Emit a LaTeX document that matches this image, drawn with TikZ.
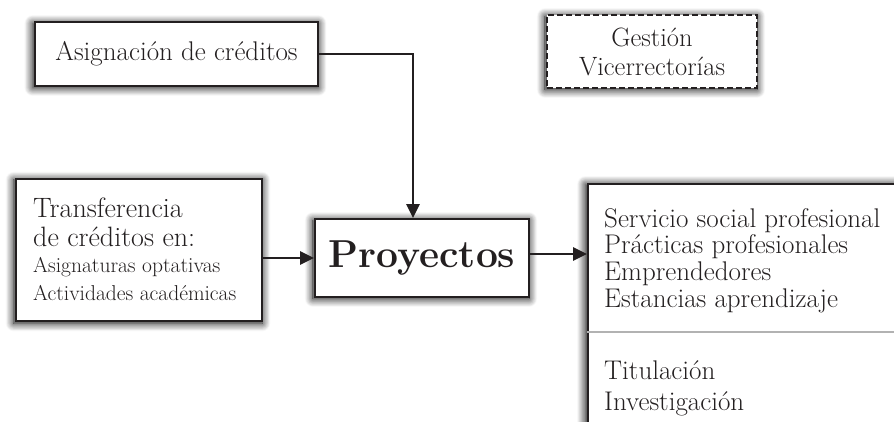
\documentclass[tikz,border=0pt]{standalone}
\usepackage{fontspec}
\usetikzlibrary{arrows.meta,shadows.blur}
\definecolor{tinta}{HTML}{231F20}
\begin{document}
\begin{tikzpicture}[x=1pt, y=-1pt,
        caja/.style={draw=tinta, line width=1.8pt, fill=white, blur shadow={shadow blur radius=8pt, shadow blur steps=10, shadow xshift=-1pt, shadow yshift=-1.5pt, shadow opacity=100, shadow scale=1.01}},
        flecha/.style={-{Triangle[length=14pt, width=13pt]}, line width=2.8pt, draw=tinta},
        texto/.style={font=\fontsize{27}{26.7}\selectfont, text=tinta, inner sep=0pt},
        textochico/.style={font=\fontsize{21.5}{26}\selectfont, text=tinta, inner sep=0pt}]
        \useasboundingbox (0, 0) rectangle (894, 421);
        \clip (0, 0) rectangle (894, 421);
        \node[caja, texto, minimum width=283, minimum height=64] (asig) at (176.5, 54) {Asignación de créditos};
        \node[caja, dashed, dash pattern=on 6pt off 3pt, line width=1.3pt, align=center, minimum width=210, minimum height=73, font=\fontsize{26.5}{29}\selectfont, text=tinta] (gestion) at (652, 51.5) {Gestión\\Vicerrectorías};
        \node[caja, minimum width=246, minimum height=142] (transf) at (139, 250) {};
        \node[texto, anchor=base west, font=\fontsize{28}{29}\selectfont] (transf1) at (33, 217) {Transferencia};
        \node[texto, anchor=base west, font=\fontsize{28}{29}\selectfont] (transf2) at (33, 246) {de créditos en:};
        \node[textochico, anchor=base west] (transf3) at (33, 272) {Asignaturas optativas};
        \node[textochico, anchor=base west] (transf4) at (33, 300) {Actividades académicas};
        \node[caja, minimum width=214, minimum height=78, font=\fontsize{39}{42}\selectfont\bfseries, text=tinta] (proy) at (422, 258) {Proyectos};
        \node[caja, anchor=north west, minimum width=340, minimum height=260] (salidas) at (587, 183) {};
        \draw[black!30, line width=2pt] (salidas.west |- 0, 332) -- (salidas.east |- 0, 332);
        \node[texto, anchor=north west, align=left] (lista) at (604, 208) {Servicio social profesional\\Prácticas profesionales\\Emprendedores\\Estancias aprendizaje};
        \node[texto, anchor=north west, align=left, font=\fontsize{27}{31}\selectfont] (otros) at (604, 360) {Titulación\\Investigación};
        \draw[flecha] (asig.east) -| ([xshift=-9pt]proy.north);
        \draw[flecha] (transf.east |- proy.west) -- (proy.west);
        \draw[flecha] ([yshift=4pt]proy.east) -- ([yshift=4pt]proy.east -| salidas.west);
    \end{tikzpicture}
\end{document}
